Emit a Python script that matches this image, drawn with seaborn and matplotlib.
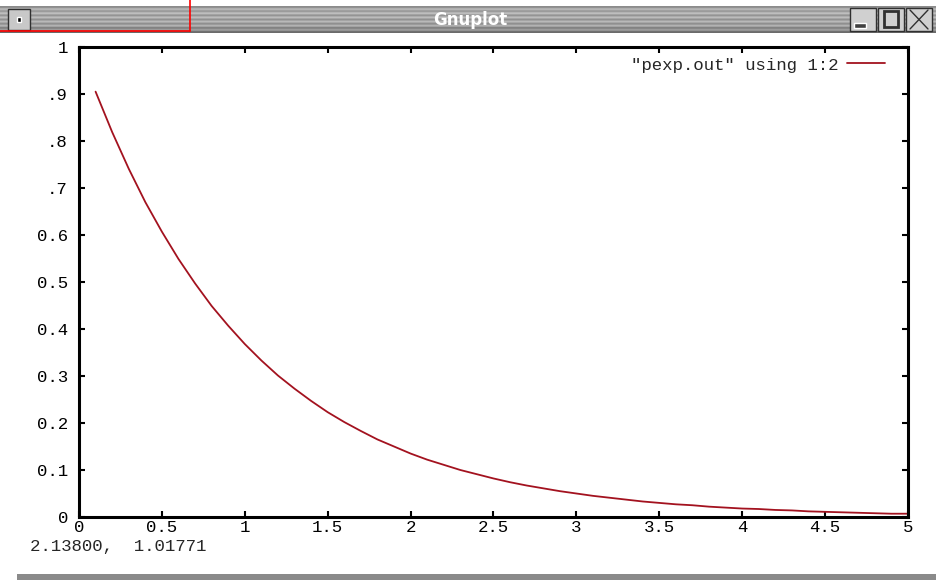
import numpy as np
import pandas as pd
import matplotlib
matplotlib.use("Agg")
import matplotlib.pyplot as plt
import seaborn as sns
from matplotlib.patches import Rectangle
from matplotlib.lines import Line2D

# values
x_vals = [0.1, 0.2, 0.3, 0.4, 0.5, 0.6, 0.7, 0.8, 0.9, 1.0,
          1.1, 1.2, 1.3, 1.4, 1.5, 1.6, 1.7, 1.8, 1.9, 2.0,
          2.1, 2.2, 2.3, 2.4, 2.5, 2.6, 2.7, 2.8, 2.9, 3.0,
          3.1, 3.2, 3.3, 3.4, 3.5, 3.6, 3.7, 3.8, 3.9, 4.0,
          4.1, 4.2, 4.3, 4.4, 4.5, 4.6, 4.7, 4.8, 4.9, 5.0]
y_vals = [0.905, 0.819, 0.741, 0.670, 0.607, 0.549, 0.497, 0.449, 0.407, 0.368,
          0.333, 0.301, 0.273, 0.247, 0.223, 0.202, 0.183, 0.165, 0.150, 0.135,
          0.122, 0.111, 0.100, 0.091, 0.082, 0.074, 0.067, 0.061, 0.055, 0.050,
          0.045, 0.041, 0.037, 0.033, 0.030, 0.027, 0.025, 0.022, 0.020, 0.018,
          0.017, 0.015, 0.014, 0.012, 0.011, 0.010, 0.009, 0.008, 0.007, 0.007]

x_ticks = [0, 0.5, 1, 1.5, 2, 2.5, 3, 3.5, 4, 4.5, 5]
x_labels = ["0", "0.5", "1", "1.5", "2", "2.5", "3", "3.5", "4", "4.5", "5"]
y_ticks = [0, 0.1, 0.2, 0.3, 0.4, 0.5, 0.6, 0.7, 0.8, 0.9, 1]
y_labels = ["0", "0.1", "0.2", "0.3", "0.4", "0.5", "0.6", ".7", ".8", ".9", "1"]

legend_label = '"pexp.out" using 1:2'
window_title = "Gnuplot"
status_text = "2.13800,  1.01771"

sns.set_style("ticks")
plt.rcParams['font.family'] = ['Liberation Mono', 'DejaVu Sans Mono']

W, H = 937, 580
fig = plt.figure(figsize=(W / 100, H / 100), dpi=100)
fig.patch.set_facecolor("white")

# --- window title bar ---
bar = fig.add_axes([0, 1 - 33 / H, 1, 27 / H])
stripes = np.array([0.55, 0.72, 0.6, 0.75, 0.58, 0.74, 0.57, 0.73, 0.56, 0.7, 0.5, 0.62, 0.42])
bar.imshow(stripes[:, None] * np.ones((1, 10)), cmap="gray", vmin=0, vmax=1,
           aspect="auto", extent=[0, W, 0, 27])
bar.set_xlim(0, W)
bar.set_ylim(0, 27)
bar.axis("off")
bar.add_patch(Rectangle((8, 3), 22, 21, facecolor="#c8c8c8", edgecolor="#303030", lw=1))
bar.add_patch(Rectangle((17, 11), 4, 5, facecolor="black"))
for bx in [850, 878, 906]:
    bar.add_patch(Rectangle((bx, 2), 26, 23, facecolor="#d0d0d0", edgecolor="#303030", lw=1))
bar.add_patch(Rectangle((854, 5), 12, 5, facecolor="#404040"))
bar.add_patch(Rectangle((884, 6), 14, 16, facecolor="none", edgecolor="#303030", lw=2))
bar.plot([910, 928], [4, 23], color="#303030", lw=1)
bar.plot([910, 928], [23, 4], color="#303030", lw=1)
bar.text(470, 13, window_title, color="white", fontsize=12, fontweight="bold",
         ha="center", va="center", family=["DejaVu Sans"])

# red annotation rectangle edge in the screenshot
fig.add_artist(Line2D([190 / W, 190 / W], [1, 1 - 31 / H], color="red", lw=1.2))
fig.add_artist(Line2D([0, 190 / W], [1 - 31 / H, 1 - 31 / H], color="red", lw=1.2))

# bottom gray bar
fig.add_artist(Rectangle((17 / W, 0), 1, 6 / H, facecolor="#8a8a8a", edgecolor="none",
                         transform=fig.transFigure))

# --- plot area ---
ax = fig.add_axes([79 / W, 63 / H, 829 / W, 470 / H])
df = pd.DataFrame({"x": x_vals, "y": y_vals})
sns.lineplot(data=df, x="x", y="y", ax=ax, color="#a3121f", lw=1.3, label=legend_label)

ax.set_xlim(0, 5)
ax.set_ylim(0, 1)
ax.set_xticks(x_ticks)
ax.set_xticklabels(x_labels)
ax.set_yticks(y_ticks)
ax.set_yticklabels(y_labels)
ax.set_xlabel("")
ax.set_ylabel("")
for s in ax.spines.values():
    s.set_visible(True)
    s.set_linewidth(2.2)
    s.set_color("black")
ax.tick_params(direction="in", length=4, width=1.5, top=True, right=True,
               labelsize=12.5, colors="black")
ax.tick_params(axis="x", pad=2)
ax.tick_params(axis="y", pad=8)

leg = ax.legend(loc="upper right", frameon=False, fontsize=12.5, handlelength=2.2,
                handletextpad=0.5, borderaxespad=0.2, markerfirst=False,
                bbox_to_anchor=(0.985, 1.0))

fig.text(30 / W, 1 - 547 / H, status_text, fontsize=12.5, va="center", ha="left")

fig.savefig("out.png", dpi=100)
